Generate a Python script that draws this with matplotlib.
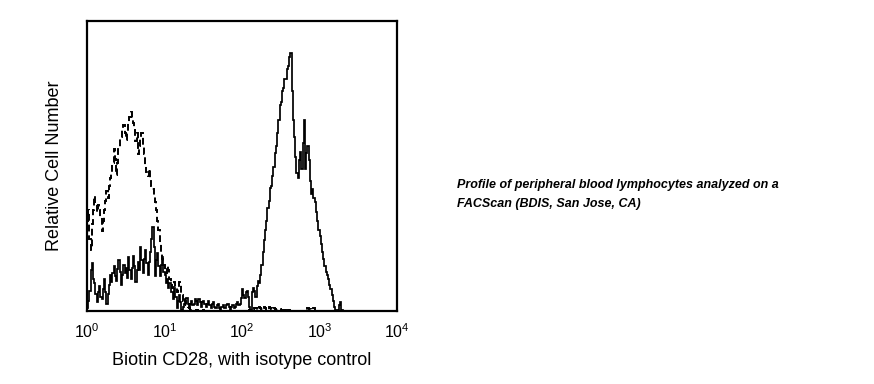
import matplotlib
matplotlib.use("Agg")
import matplotlib.pyplot as plt
import numpy as np

# 256 log channels over 4 decades, heights in % of the plot height
n_channels = 256
decades = 4

cd28 = [
    1.0, 3.5, 7.0, 14.0, 16.5, 11.0, 9.5, 6.0, 3.0, 6.5,
    8.5, 5.0, 4.0, 7.5, 11.0, 6.5, 2.5, 6.0, 9.0, 12.5,
    10.0, 13.0, 15.5, 12.0, 10.5, 14.5, 17.5, 13.5, 9.0, 12.5,
    16.0, 13.0, 15.0, 11.5, 18.5, 14.0, 11.0, 15.0, 19.0, 15.5,
    10.0, 14.0, 17.0, 14.0, 22.0, 17.5, 13.0, 18.0, 21.0, 16.5,
    12.5, 17.0, 20.5, 25.0, 29.0, 22.0, 12.0, 17.5, 20.0, 15.5,
    12.0, 16.0, 18.5, 13.5, 12.5, 9.5, 11.0, 8.0, 9.5, 6.5,
    6.5, 4.0, 8.0, 5.0, 1.0, 3.5, 5.5, 3.0, 0.3, 1.5,
    2.5, 4.0, 4.5, 2.5, 1.0, 2.5, 3.5, 2.0, 2.5, 4.0,
    3.5, 2.0, 4.0, 3.0, 1.5, 3.0, 3.5, 2.5, 1.5, 2.5,
    3.5, 2.0, 1.0, 2.5, 3.0, 1.5, 1.0, 2.0, 2.5, 1.0,
    0.5, 1.5, 2.0, 1.0, 1.0, 2.0, 2.5, 1.5, 0.5, 1.5,
    2.0, 1.0, 1.5, 2.5, 3.0, 2.0, 2.5, 4.5, 7.5, 5.5,
    4.5, 6.5, 7.0, 5.0, 1.5, 0.5, 6.5, 8.0, 7.0, 5.0,
    8.5, 10.5, 9.5, 12.5, 16.0, 20.5, 24.5, 28.0, 31.0, 35.5,
    38.0, 42.5, 43.0, 46.5, 49.5, 54.5, 57.0, 61.5, 66.0, 71.0,
    72.0, 76.0, 77.0, 80.0, 80.0, 83.5, 84.5, 87.5, 89.0, 76.0,
    66.0, 60.0, 53.0, 47.5, 46.0, 52.0, 55.0, 49.0, 58.0, 66.0,
    49.0, 54.5, 57.0, 52.0, 45.0, 40.5, 42.0, 39.0, 37.5, 34.0,
    31.0, 28.0, 26.0, 23.0, 20.5, 18.0, 15.5, 13.5, 12.5, 11.0,
    9.0, 7.5, 5.5, 3.5, 1.5, 0.5, 0.2, 0.5, 2.0, 3.0,
    0.5, 0,
]

isotype = [
    31.0, 35.0, 25.0, 21.0, 30.0, 35.0, 39.5, 37.0, 34.0, 36.5,
    35.0, 32.5, 27.5, 31.0, 35.0, 38.0, 41.5, 39.0, 43.0, 46.0,
    48.0, 51.0, 56.0, 52.5, 47.0, 51.0, 56.5, 59.5, 60.0, 62.5,
    64.0, 61.5, 59.0, 62.0, 65.0, 67.0, 68.5, 66.5, 65.0, 62.5,
    58.5, 61.5, 54.0, 57.0, 59.5, 61.5, 56.5, 54.0, 50.5, 48.0,
    46.5, 49.0, 45.5, 43.0, 42.0, 40.0, 37.5, 35.0, 31.0, 28.0,
    23.5, 20.5, 18.0, 16.0, 14.0, 13.0, 15.5, 14.0, 11.0, 9.0,
    8.0, 8.8, 10.0, 8.5, 6.5, 7.8, 10.0, 9.0, 5.5, 3.5,
    4.0, 3.5, 2.0, 1.3, 1.0, 0.4, 0.3, 0.2, 0, 0,
    0.4, 0.4, 0, 0, 0, 0, 0.3, 0, 0, 0,
    0, 0, 0, 0, 0, 0, 0, 0, 0, 0,
    0, 0, 0, 0, 0, 0, 0, 0, 0, 0,
    0, 0, 0, 0, 0, 0, 0, 0, 0, 0,
    0, 0, 0, 0, 0.3, 0.3, 0.5, 0.5, 1.2, 1.0,
    0.4, 0.6, 1.4, 1.2, 0.6, 0.5, 1.3, 1.0, 0.5, 0.4,
    1.5, 1.2, 0.7, 0.5, 1.0, 0.8, 0.3, 0.2, 0.8, 0.6,
    0.2, 0.2, 0.5, 0.3, 0, 0, 0.3, 0.2, 0, 0,
    0, 0, 0, 0, 0, 0, 0, 0, 0, 0,
    0, 0, 1.0, 0.8, 0.6, 0.4, 1.2, 1.0,
]

tick_values = [1, 10, 100, 1000, 10000]
tick_labels = [r"$\mathregular{10^{0}}$", r"$\mathregular{10^{1}}$",
               r"$\mathregular{10^{2}}$", r"$\mathregular{10^{3}}$",
               r"$\mathregular{10^{4}}$"]

# pad the empty high channels
cd28 = cd28 + [0] * (n_channels - len(cd28))
isotype = isotype + [0] * (n_channels - len(isotype))

plt.rcParams["font.family"] = ["Liberation Sans", "DejaVu Sans"]
plt.rcParams["mathtext.fontset"] = "custom"
plt.rcParams["mathtext.rm"] = "Liberation Sans"

fig = plt.figure(figsize=(8.74, 3.84), dpi=100)
ax = fig.add_axes([87 / 874, (384 - 311) / 384, 310 / 874, 290 / 384])

edges = 10 ** (np.arange(n_channels + 1) * decades / n_channels)

ax.stairs(isotype, edges, color="black", linewidth=1.4, linestyle=(0, (3.5, 2)))
ax.stairs(cd28, edges, color="black", linewidth=1.25)

ax.set_xscale("log")
ax.set_xlim(1, 10000)
ax.set_ylim(0, 100)
ax.set_xticks(tick_values)
ax.set_xticklabels(tick_labels, fontsize=11.5)
ax.minorticks_off()
ax.set_yticks([])
ax.tick_params(axis="x", length=0, pad=8)

for s in ax.spines.values():
    s.set_linewidth(1.6)
    s.set_color("black")

ax.set_xlabel("Biotin CD28, with isotype control", fontsize=13, labelpad=8)
ax.set_ylabel("Relative Cell Number", fontsize=13, labelpad=17)

fig.text(457 / 874, 1 - 188 / 384, "Profile of peripheral blood lymphocytes analyzed on a",
         fontsize=9, fontweight="bold", fontstyle="italic")
fig.text(457 / 874, 1 - 207 / 384, "FACScan (BDIS, San Jose, CA)",
         fontsize=9, fontweight="bold", fontstyle="italic")

fig.savefig("out.png", dpi=100, facecolor="white")
